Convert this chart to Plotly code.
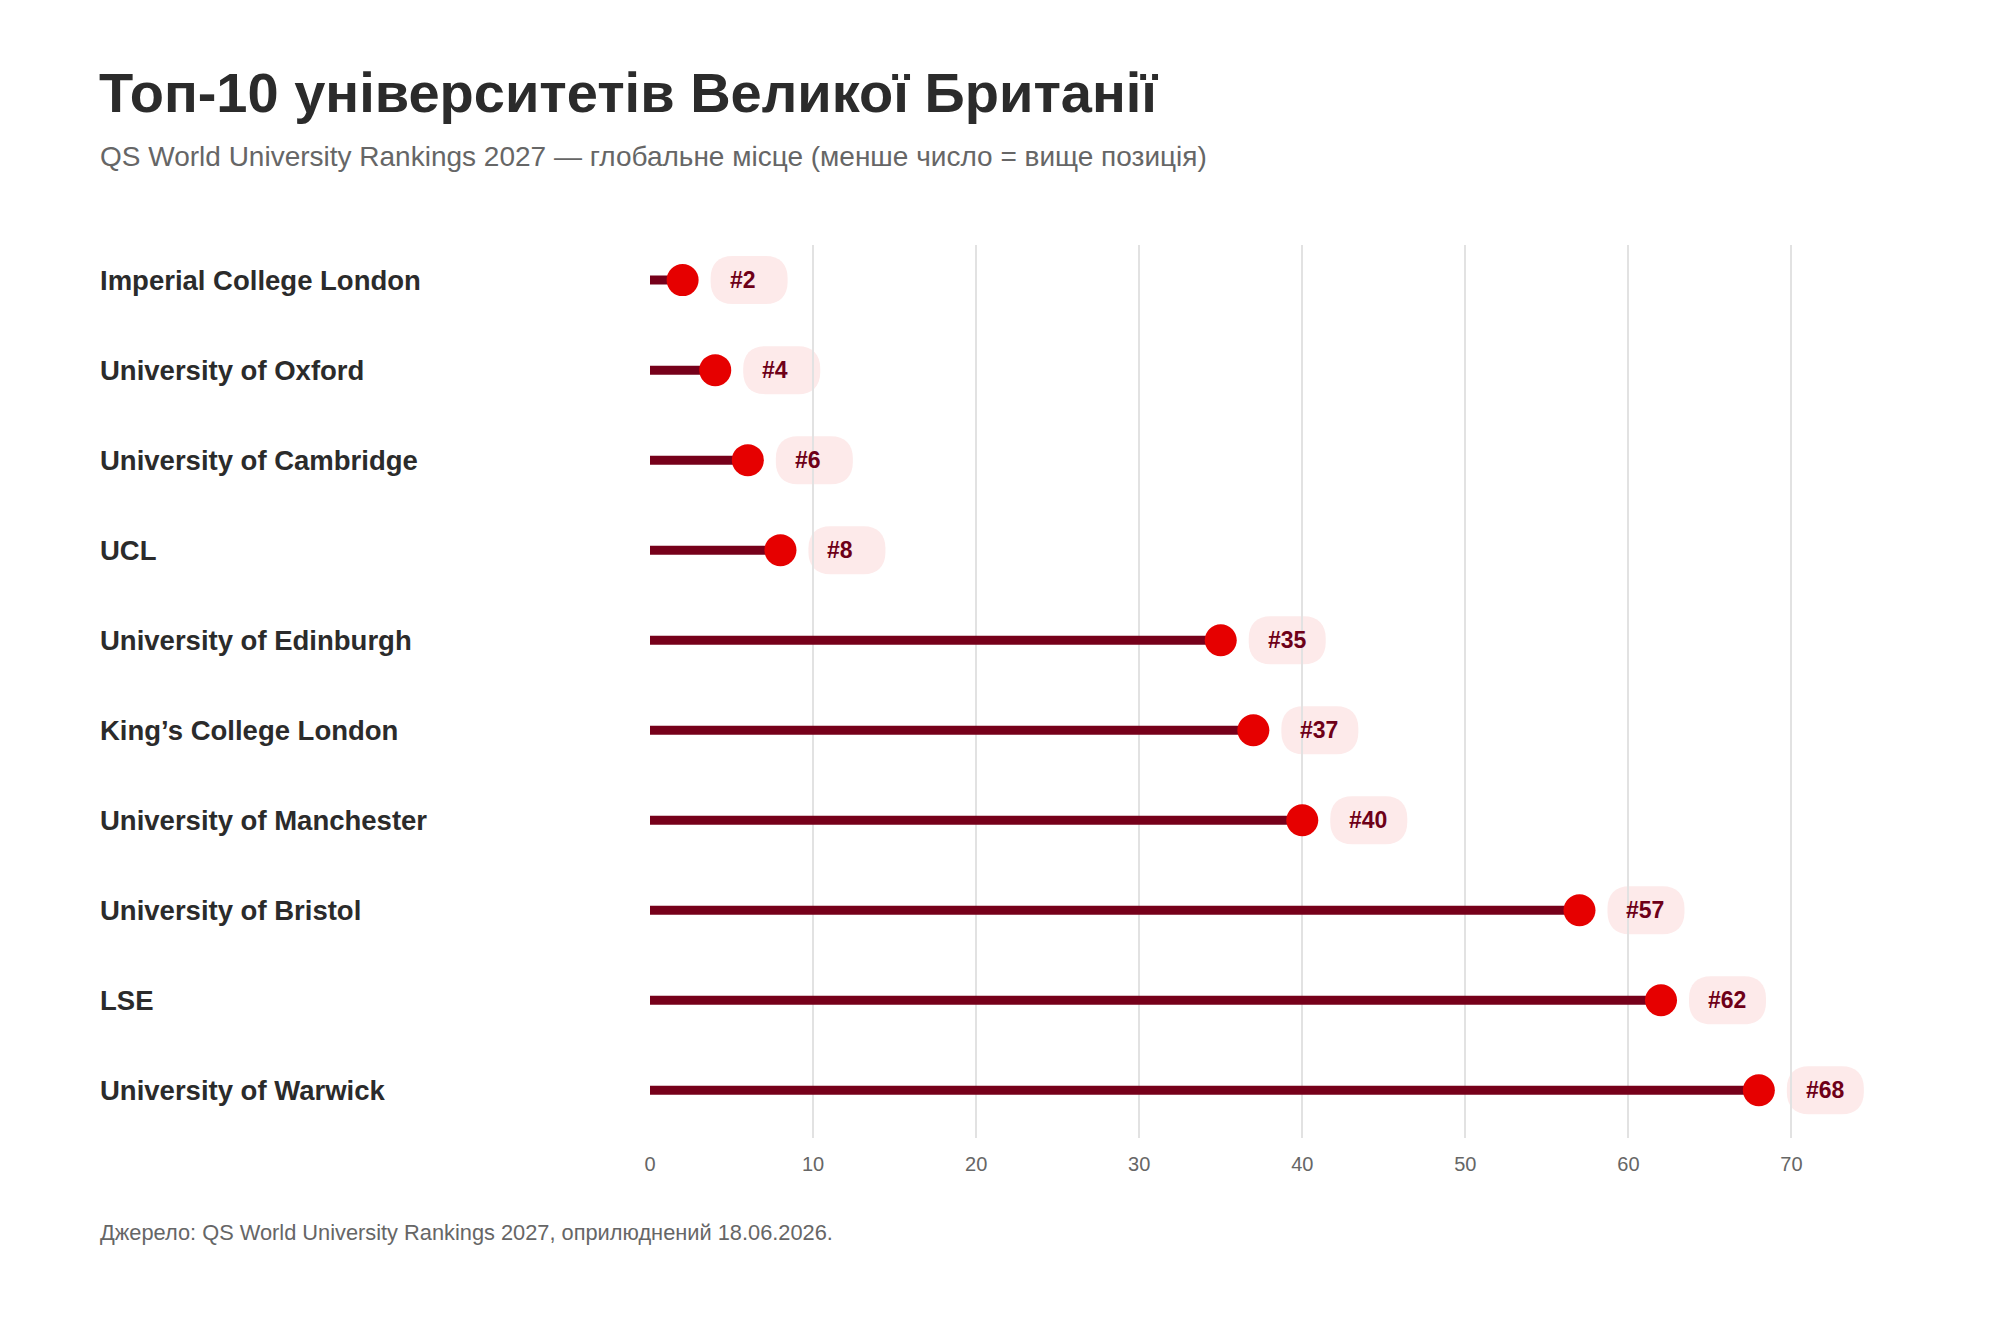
import plotly.graph_objects as go

# --- дані ---
universities = [
    "Imperial College London",
    "University of Oxford",
    "University of Cambridge",
    "UCL",
    "University of Edinburgh",
    "King’s College London",
    "University of Manchester",
    "University of Bristol",
    "LSE",
    "University of Warwick",
]
ranks = [2, 4, 6, 8, 35, 37, 40, 57, 62, 68]
x_ticks = [0, 10, 20, 30, 40, 50, 60, 70]

title = "Топ-10 університетів Великої Британії"
subtitle = "QS World University Rankings 2027 — глобальне місце (менше число = вище позиція)"
source = "Джерело: QS World University Rankings 2027, оприлюднений 18.06.2026."

# --- кольори ---
LINE = "#76001a"
DOT = "#e60000"
PILL = "#fdeaea"
PILL_TEXT = "#6e0018"
DARK = "#2b2b2b"
GREY = "#666666"
FONT = "Liberation Sans, Arial, sans-serif"

W, H = 2000, 1320
L, R, T, B = 650, 127, 245, 182
plot_w = W - L - R
plot_h = H - T - B


def px_x(p):
    return (p - L) / plot_w


def px_y(p):
    return 1 - (p - T) / plot_h


# стебла
stem_x, stem_y = [], []
for u, r in zip(universities, ranks):
    stem_x += [0, r, None]
    stem_y += [u, u, None]

fig = go.Figure()
fig.add_trace(go.Scatter(
    x=stem_x, y=stem_y, mode="lines",
    line=dict(color=LINE, width=9),
    hoverinfo="skip", showlegend=False,
))
fig.add_trace(go.Scatter(
    x=ranks, y=universities, mode="markers",
    marker=dict(color=DOT, size=32, line=dict(width=0)),
    hovertemplate="%{y}: #%{x}<extra></extra>", showlegend=False,
))

# плашки з місцем
pill_path = ("M50,-24 H83 C97,-24 105,-16 105,-2 V2 C105,16 97,24 83,24 H50 "
             "C36,24 28,16 28,2 V-2 C28,-16 36,-24 50,-24 Z")
for u, r in zip(universities, ranks):
    fig.add_shape(
        type="path", xref="x", yref="y",
        xsizemode="pixel", ysizemode="pixel",
        xanchor=r, yanchor=u, path=pill_path,
        fillcolor=PILL, line=dict(width=0), layer="below",
    )
    fig.add_annotation(
        x=r, y=u, xref="x", yref="y", text=f"<b>#{r}</b>",
        showarrow=False, xanchor="left", xshift=45,
        font=dict(family=FONT, size=23, color=PILL_TEXT),
    )
    # назви університетів зліва
    fig.add_annotation(
        x=px_x(98), y=u, xref="paper", yref="y", text=f"<b>{u}</b>",
        showarrow=False, xanchor="left",
        font=dict(family=FONT, size=27.5, color=DARK),
    )

fig.add_annotation(
    x=px_x(97), y=px_y(93), xref="paper", yref="paper", text=f"<b>{title}</b>",
    showarrow=False, xanchor="left", yanchor="middle",
    font=dict(family=FONT, size=56, color=DARK),
)
fig.add_annotation(
    x=px_x(98), y=px_y(157), xref="paper", yref="paper", text=subtitle,
    showarrow=False, xanchor="left", yanchor="middle",
    font=dict(family=FONT, size=28, color=GREY),
)
fig.add_annotation(
    x=px_x(98), y=px_y(1232), xref="paper", yref="paper", text=source,
    showarrow=False, xanchor="left", yanchor="middle",
    font=dict(family=FONT, size=21.8, color=GREY),
)

fig.update_layout(
    width=W, height=H,
    margin=dict(l=L, r=R, t=T, b=B),
    paper_bgcolor="white", plot_bgcolor="white",
    font=dict(family=FONT),
    xaxis=dict(
        range=[0, 75], tickvals=x_ticks, showgrid=True,
        gridcolor="#e2e2e2", gridwidth=2, zeroline=False,
        showline=False, ticks="outside", ticklen=8, tickcolor="white",
        tickfont=dict(size=20, color=GREY),
    ),
    yaxis=dict(
        categoryorder="array", categoryarray=universities,
        range=[9.53, -0.39], showticklabels=False, showgrid=False,
        zeroline=False, showline=False,
    ),
)

fig.write_html("out.html", config={"displayModeBar": False},
               post_script="document.body.style.margin='0';")
